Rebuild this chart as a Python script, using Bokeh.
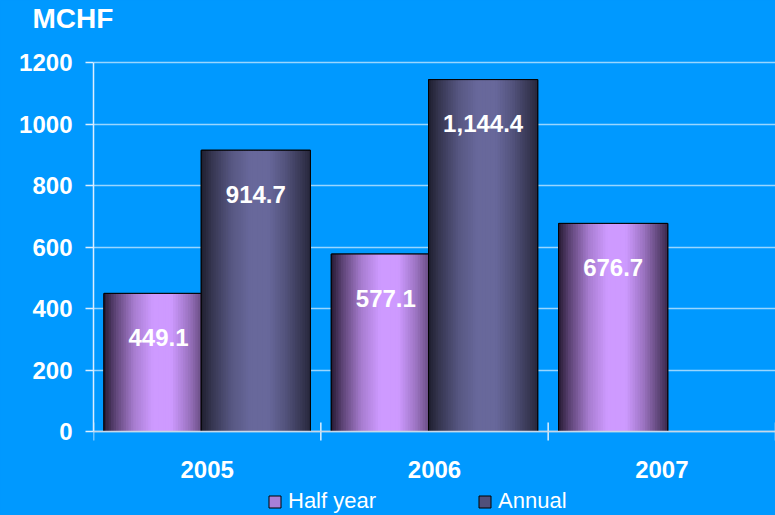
import numpy as np
from bokeh.plotting import figure
from bokeh.models import ColumnDataSource, FixedTicker, Legend, LegendItem, Range1d, Span
from bokeh.core.properties import value
from bokeh.embed import file_html
from bokeh.resources import INLINE

# ---- data ----
years = ["2005", "2006", "2007"]
half_year = [449.1, 577.1, 676.7]
annual = [914.7, 1144.4, None]
half_labels = ["449.1", "577.1", "676.7"]
annual_labels = ["914.7", "1,144.4", ""]
y_ticks = [0, 200, 400, 600, 800, 1000, 1200]
series_names = ["Half year", "Annual"]

BG = "#0099FF"
FONT = "Liberation Sans"
LIGHT = "#dceeff"

cat_pos = [i + 1 for i in range(len(years))]
bounds = [c - 0.5 for c in cat_pos] + [cat_pos[-1] + 0.5]

# layout (pixels): frame is invisible, extended above/below the value axis
TOP_PX, ZERO_PX, Y1200_PX, BOTTOM_PX = 32, 430, 61, 515
ppu = (ZERO_PX - Y1200_PX) / 1200.0
y_lo = -(BOTTOM_PX - ZERO_PX) / ppu
y_hi = 1200 + (Y1200_PX - TOP_PX) / ppu

p = figure(frame_width=682, frame_height=BOTTOM_PX - TOP_PX,
           min_border_left=93, min_border_right=0, min_border_top=TOP_PX, min_border_bottom=0,
           x_range=Range1d(0.5, 3.5), y_range=Range1d(y_lo, y_hi),
           x_axis_location=None,
           output_backend="svg", toolbar_location=None)
p.background_fill_color = BG
p.border_fill_color = BG
p.outline_line_color = None

# ---- gradient bars as thin strips ----
N = 44
bar_w = 0.48
offset = 0.214
t = (np.arange(N) + 0.5) / N
stops_t = [0, 0.1, 0.28, 0.45, 0.62, 0.78, 0.92, 1]
stops_f = [0.05, 0.35, 0.78, 1.0, 1.0, 0.72, 0.38, 0.18]
f = np.interp(t, stops_t, stops_f)


def shade(peak, dark):
    return ["#%02x%02x%02x" % tuple(int(round(d + (pk - d) * fi)) for d, pk in zip(dark, peak)) for fi in f]


def draw_series(vals, off, peak, dark, swatch):
    xs, tops, cols = [], [], []
    cs = shade(peak, dark)
    cx, cv = [], []
    for pos, v in zip(cat_pos, vals):
        if v is None:
            continue
        c = pos + off
        cx.append(c)
        cv.append(v)
        xs.extend(list(c + (t - 0.5) * bar_w))
        tops.extend([v] * N)
        cols.extend(cs)
    base = p.vbar(x=cx, top=cv, bottom=0, width=bar_w, fill_color=swatch, line_color="black", line_width=1)
    src = ColumnDataSource(dict(x=xs, top=tops, color=cols))
    p.vbar(x="x", top="top", bottom=0, width=bar_w / N * 1.3, source=src,
           fill_color="color", line_color=None)
    p.vbar(x=cx, top=cv, bottom=0, width=bar_w, fill_alpha=0, line_color="black", line_width=1)
    return base


r_half = draw_series(half_year, -offset, (206, 154, 255), (28, 18, 38), "#A880D8")
r_ann = draw_series(annual, offset, (104, 104, 155), (26, 26, 40), "#50507A")

# ---- category axis (baseline, boundary ticks, labels) ----
p.add_layout(Span(location=0, dimension="width", line_color="#c8d8e8", line_width=1.5))
p.scatter(x=bounds, y=[0] * len(bounds), marker="dash", angle=np.pi / 2, size=18,
          line_color=LIGHT, line_width=1.5)
p.text(x=cat_pos, y=[0] * len(cat_pos), text=years, y_offset=38, text_align="center",
       text_baseline="middle", text_color="white", text_font=value(FONT),
       text_font_style="bold", text_font_size="24px")

# ---- value labels ----
lab_x, lab_y, lab_t = [], [], []
for pos, v, s in zip(cat_pos, half_year, half_labels):
    lab_x.append(pos - offset); lab_y.append(v); lab_t.append(s)
for pos, v, s in zip(cat_pos, annual, annual_labels):
    if v is None:
        continue
    lab_x.append(pos + offset); lab_y.append(v); lab_t.append(s)
p.text(x=lab_x, y=lab_y, text=lab_t, y_offset=44, text_align="center", text_baseline="middle",
       text_color="white", text_font=value(FONT), text_font_style="bold", text_font_size="24px")

# ---- legend ----
legend = Legend(items=[LegendItem(label=series_names[0], renderers=[r_half]),
                       LegendItem(label=series_names[1], renderers=[r_ann])],
                orientation="horizontal", location=(174, 2),
                label_text_font=FONT, label_text_font_size="22px", label_text_color="white",
                glyph_width=15, glyph_height=15, label_standoff=6, spacing=101,
                label_height=15, padding=1, margin=0, background_fill_alpha=0, border_line_color=None)
p.add_layout(legend, "center")

# ---- value axis ----
ya = p.yaxis[0]
ya.ticker = FixedTicker(ticks=y_ticks)
ya.bounds = (0, 1200)
ya.major_tick_in = 0
ya.major_tick_out = 8
ya.major_tick_line_color = LIGHT
ya.major_tick_line_width = 1.5
ya.minor_tick_line_color = None
ya.axis_line_color = LIGHT
ya.axis_line_width = 1.5
ya.major_label_standoff = 13
ya.major_label_text_font = FONT
ya.major_label_text_font_style = "bold"
ya.major_label_text_font_size = "24px"
ya.major_label_text_color = "white"

p.xgrid.grid_line_color = None
p.ygrid.grid_line_color = "white"
p.ygrid.grid_line_alpha = 0.6
p.ygrid.grid_line_width = 1.5

# ---- title ----
p.title.text = "MCHF"
p.title.text_font = FONT
p.title.text_font_style = "bold"
p.title.text_font_size = "28px"
p.title.text_color = "white"
p.title.align = "left"
p.title.offset = -61
p.title.standoff = 0

html = file_html(p, INLINE)
html = html.replace("<head>", "<head><style>html,body{background-color:%s;}</style>" % BG, 1)
open("out.html", "w").write(html)
